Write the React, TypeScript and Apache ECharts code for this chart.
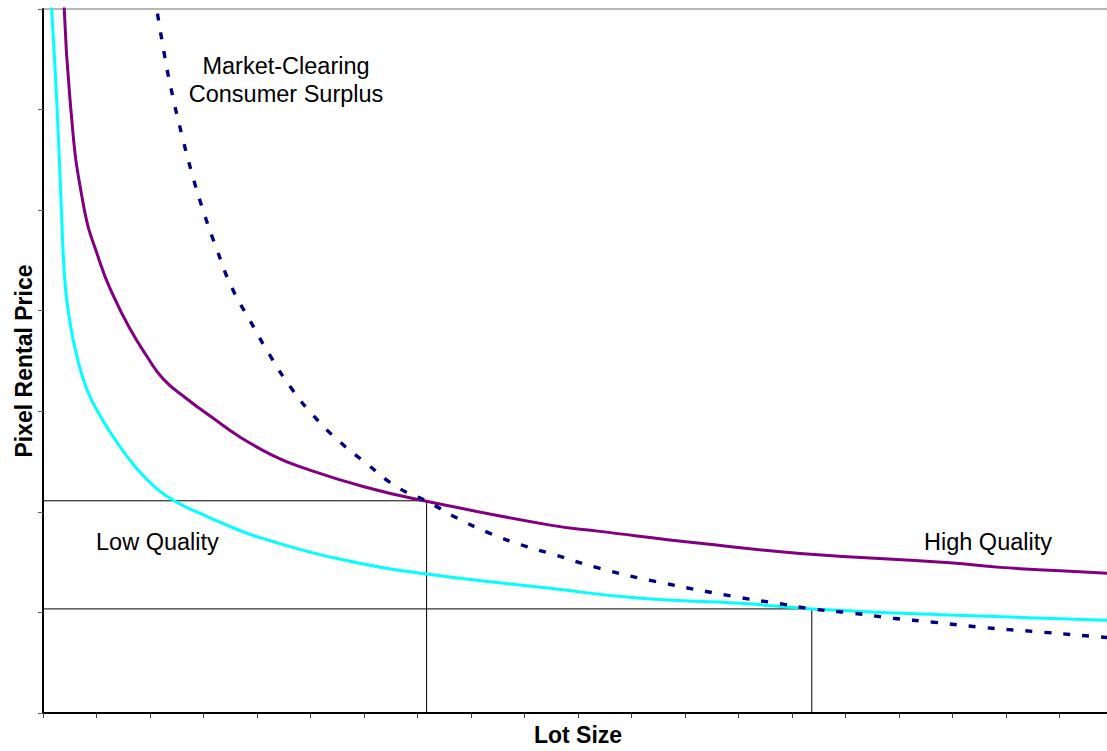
import React, { useEffect, useRef } from "react";
import * as echarts from "echarts";

// Lot size (x) vs pixel rental price (y)
const highQuality: [number, number][] = [
  [0.379, 7.29], [0.505, 6.1], [0.753, 5.06], [1.065, 4.48], [1.314, 4.15],
  [1.626, 3.82], [1.938, 3.55], [2.25, 3.32], [2.686, 3.125], [3.183, 2.93],
  [3.68, 2.745], [4.3, 2.56], [4.8, 2.45], [6.0, 2.25], [7.17, 2.106],
  [9.48, 1.868], [10.41, 1.806], [12.28, 1.687], [14.15, 1.587], [16.95, 1.495],
  [17.89, 1.448], [19.89, 1.389], [20.0, 1.383],
];

const lowQuality: [number, number][] = [
  [0.142, 7.19], [0.163, 6.99], [0.256, 6.1], [0.336, 5.11], [0.411, 4.28],
  [0.505, 3.886], [0.63, 3.555], [0.817, 3.224], [1.065, 2.959], [1.378, 2.695],
  [1.751, 2.431], [2.125, 2.232], [2.436, 2.116], [2.935, 1.984], [3.557, 1.842],
  [3.869, 1.776], [4.8, 1.627], [5.74, 1.508], [7.17, 1.382], [9.48, 1.24],
  [11.16, 1.141], [13.03, 1.091], [14.37, 1.035], [16.95, 0.975], [19.88, 0.923],
  [20.0, 0.921],
];

const marketClearing: [number, number][] = [
  [2.084, 7.14], [2.28, 6.515], [2.424, 6.134], [2.593, 5.754], [2.779, 5.374],
  [2.996, 4.993], [3.247, 4.613], [3.527, 4.233], [3.869, 3.902], [4.243, 3.555],
  [4.649, 3.224], [5.052, 2.959], [5.551, 2.695], [6.05, 2.48], [6.611, 2.249],
  [7.172, 2.106], [7.733, 1.941], [8.355, 1.786], [9.041, 1.654], [9.477, 1.587],
  [10.41, 1.438], [11.35, 1.319], [13.03, 1.148], [13.78, 1.086], [14.37, 1.035],
  [15.15, 0.992], [15.89, 0.942], [16.64, 0.903], [17.58, 0.85], [18.51, 0.811],
  [19.88, 0.751], [20.0, 0.746],
];

const highClearingLine: [number, number][] = [[0, 2.11], [7.17, 2.11], [7.17, 0]];
const lowClearingLine: [number, number][] = [[0, 1.035], [14.37, 1.035], [14.37, 0]];

const xRange = { min: 0, max: 20, interval: 1 };
const yRange = { min: 0, max: 7, interval: 1 };

const FONT = "'Liberation Sans', Arial, sans-serif";

export default function App() {
  const ref = useRef<HTMLDivElement>(null);
  useEffect(() => {
    if (!ref.current) return;
    const chart = echarts.init(ref.current, null, { renderer: "svg" });
    const refLine = (data: [number, number][]) => ({
      type: "line",
      data,
      showSymbol: false,
      symbol: "none",
      lineStyle: { color: "#000000", width: 1 },
      z: 1,
      silent: true,
    });
    const curve = (name: string, data: [number, number][], lineStyle: any, z: number) => ({
      type: "line",
      name,
      data,
      showSymbol: false,
      symbol: "none",
      smooth: 0.5,
      lineStyle,
      z,
    });
    chart.setOption({
      animation: false,
      backgroundColor: "#ffffff",
      grid: {
        left: 43,
        top: 9,
        width: 1070,
        height: 706,
        show: true,
        borderColor: "#707070",
        borderWidth: 1,
        backgroundColor: "transparent",
      },
      xAxis: {
        type: "value",
        ...xRange,
        name: "Lot Size",
        nameLocation: "middle",
        nameGap: 10,
        nameTextStyle: { fontFamily: FONT, fontSize: 23, fontWeight: "bold", color: "#000" },
        axisLine: { show: true, lineStyle: { color: "#000", width: 2 } },
        axisTick: { show: true, length: 5, lineStyle: { color: "#404040", width: 1 } },
        axisLabel: { show: false },
        splitLine: { show: false },
      },
      yAxis: {
        type: "value",
        ...yRange,
        name: "Pixel Rental Price",
        nameLocation: "middle",
        nameGap: 8,
        nameTextStyle: { fontFamily: FONT, fontSize: 23, fontWeight: "bold", color: "#000" },
        axisLine: { show: true, lineStyle: { color: "#000", width: 2 } },
        axisTick: { show: true, length: 5, lineStyle: { color: "#606060", width: 1 } },
        axisLabel: { show: false },
        splitLine: { show: false },
      },
      series: [
        refLine(highClearingLine),
        refLine(lowClearingLine),
        curve("High Quality", highQuality, { color: "#800080", width: 3 }, 2),
        curve("Low Quality", lowQuality, { color: "#00FFFF", width: 3 }, 2),
        curve("Market-Clearing Consumer Surplus", marketClearing, { color: "#000080", width: 3.4, type: [7, 12] }, 3),
      ],
      graphic: [
        {
          type: "text",
          x: 286,
          y: 66,
          style: { text: "Market-Clearing", font: `23.5px ${FONT}`, fill: "#000", textAlign: "center", textVerticalAlign: "middle" },
        },
        {
          type: "text",
          x: 286,
          y: 94,
          style: { text: "Consumer Surplus", font: `23.5px ${FONT}`, fill: "#000", textAlign: "center", textVerticalAlign: "middle" },
        },
        {
          type: "text",
          x: 96,
          y: 542,
          style: { text: "Low Quality", font: `23.5px ${FONT}`, fill: "#000", textAlign: "left", textVerticalAlign: "middle" },
        },
        {
          type: "text",
          x: 924,
          y: 542,
          style: { text: "High Quality", font: `23.5px ${FONT}`, fill: "#000", textAlign: "left", textVerticalAlign: "middle" },
        },
      ],
    });
    return () => chart.dispose();
  }, []);
  return (
    <div style={{ position: "absolute", left: 0, top: 0, width: 1107, height: 751, overflow: "hidden", background: "#fff" }}>
      <div ref={ref} style={{ width: 1120, height: 751 }} />
    </div>
  );
}
